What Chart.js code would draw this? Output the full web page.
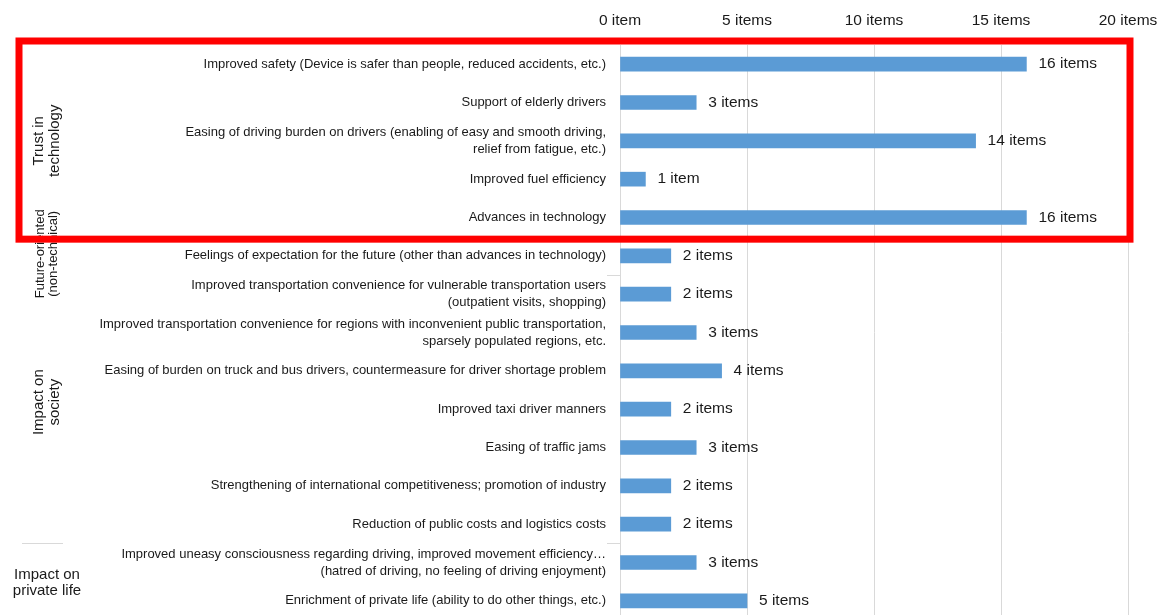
<!DOCTYPE html>
<html lang="en">
<head>
  <meta charset="UTF-8" />
  <title>Positive opinions - items</title>
  <script src="https://cdn.jsdelivr.net/npm/chart.js"></script>
  <style>
    html, body { margin: 0; padding: 0; background: #fff; overflow: hidden; }
    canvas { display: block; }
  </style>
</head>
<body>
  <canvas id="opinionChart" width="1159" height="625"></canvas>

  <script>
    // categories (top to bottom)
    const categories = [
      "Improved safety (Device is safer than people, reduced accidents, etc.)",
      "Support of elderly drivers",
      ["Easing of driving burden on drivers (enabling of easy and smooth driving,", "relief from fatigue, etc.)"],
      "Improved fuel efficiency",
      "Advances in technology",
      "Feelings of expectation for the future (other than advances in technology)",
      ["Improved transportation convenience for vulnerable transportation users", "(outpatient visits, shopping)"],
      ["Improved transportation convenience for regions with inconvenient public transportation,", "sparsely populated regions, etc."],
      "Easing of burden on truck and bus drivers, countermeasure for driver shortage problem",
      "Improved taxi driver manners",
      "Easing of traffic jams",
      "Strengthening of international competitiveness; promotion of industry",
      "Reduction of public costs and logistics costs",
      ["Improved uneasy consciousness regarding driving, improved movement efficiency\u2026", "(hatred of driving, no feeling of driving enjoyment)"],
      "Enrichment of private life (ability to do other things, etc.)"
    ];
    const itemCounts = [16, 3, 14, 1, 16, 2, 2, 3, 4, 2, 3, 2, 2, 3, 5];

    const tickValues = [0, 5, 10, 15, 20];
    const tickLabels = ["0 item", "5 items", "10 items", "15 items", "20 items"];

    // outer category groups
    const groupNames = [["Trust in", "technology"], ["Future-oriented", "(non-technical)"], ["Impact on", "society"], ["Impact on", "private life"]];
    const groupFirst = [0, 5, 6, 13];
    const groupLast = [4, 5, 12, 14];

    const FONT = "'Liberation Sans', Arial, sans-serif";
    const TEXT = "#1a1a1a";
    const GRID = "#d9d9d9";

    // value labels next to bars
    const valueLabels = {
      id: "valueLabels",
      afterDatasetsDraw(chart) {
        const ctx = chart.ctx;
        ctx.save();
        ctx.font = "15.5px " + FONT;
        ctx.fillStyle = TEXT;
        ctx.textAlign = "left";
        ctx.textBaseline = "middle";
        chart.getDatasetMeta(0).data.forEach((bar, i) => {
          const v = itemCounts[i];
          ctx.fillText(v + (v === 1 ? " item" : " items"), bar.x + 12, bar.y);
        });
        ctx.restore();
      }
    };

    // group labels, separators and red frame
    const groupDecor = {
      id: "groupDecor",
      afterDraw(chart) {
        const ctx = chart.ctx;
        const y = chart.scales.y;
        const area = chart.chartArea;
        const half = (y.getPixelForValue(1) - y.getPixelForValue(0)) / 2;
        const sizes = [15, 13, 15, 15];
        const lineH = [16, 13, 16, 16];
        const shift = [0, -2, -7, 1];

        ctx.save();
        ctx.fillStyle = TEXT;
        ctx.textAlign = "center";
        ctx.textBaseline = "middle";
        groupNames.forEach((lines, g) => {
          const top = y.getPixelForValue(groupFirst[g]) - half;
          const bot = y.getPixelForValue(groupLast[g]) + half;
          const cy = (top + bot) / 2 + shift[g];
          ctx.font = sizes[g] + "px " + FONT;
          ctx.save();
          ctx.translate(47, cy);
          if (g < 3) ctx.rotate(-Math.PI / 2);
          lines.forEach((t, i) => {
            ctx.fillText(t, 0, (i - (lines.length - 1) / 2) * lineH[g]);
          });
          ctx.restore();
        });

        // separators of the category axis
        ctx.strokeStyle = GRID;
        ctx.lineWidth = 1;
        [5, 12].forEach(idx => {
          const b = Math.round(y.getPixelForValue(idx) + half) + 0.5;
          ctx.beginPath();
          ctx.moveTo(607, b);
          ctx.lineTo(area.left, b);
          ctx.stroke();
        });
        const b2 = Math.round(y.getPixelForValue(12) + half) + 0.5;
        ctx.beginPath();
        ctx.moveTo(22, b2);
        ctx.lineTo(63, b2);
        ctx.stroke();

        // red highlight box around the first group
        const boxBottom = y.getPixelForValue(4) + half + 2.5;
        ctx.strokeStyle = "#ff0000";
        ctx.lineWidth = 7;
        ctx.strokeRect(19, area.top - 4, area.right + 2 - 19, boxBottom - (area.top - 4));
        ctx.restore();
      }
    };

    new Chart(document.getElementById("opinionChart"), {
      type: "bar",
      data: {
        labels: categories,
        datasets: [{
          data: itemCounts,
          backgroundColor: "#5b9bd5",
          borderWidth: 0,
          barThickness: 14
        }]
      },
      options: {
        indexAxis: "y",
        responsive: false,
        animation: false,
        layout: { padding: { left: 0, right: 31, top: 0, bottom: 5 } },
        plugins: {
          legend: { display: false },
          tooltip: { enabled: false }
        },
        scales: {
          x: {
            position: "top",
            min: 0,
            max: 20,
            afterBuildTicks: s => { s.ticks = tickValues.map(v => ({ value: v })); },
            afterFit: s => { s.height = 45; s.paddingLeft = 0; s.paddingRight = 0; },
            ticks: {
              padding: 15,
              maxRotation: 0,
              color: TEXT,
              font: { family: FONT, size: 15.5 },
              callback: (v) => tickLabels[tickValues.indexOf(v)]
            },
            grid: { color: GRID, drawTicks: false },
            border: { display: false }
          },
          y: {
            afterFit: s => { s.width = 620; s.paddingTop = 0; s.paddingBottom = 0; },
            ticks: {
              autoSkip: false,
              padding: 6,
              color: TEXT,
              font: { family: FONT, size: 13, lineHeight: 1.3 }
            },
            grid: { display: false },
            border: { color: GRID }
          }
        }
      },
      plugins: [valueLabels, groupDecor]
    });
  </script>
</body>
</html>
